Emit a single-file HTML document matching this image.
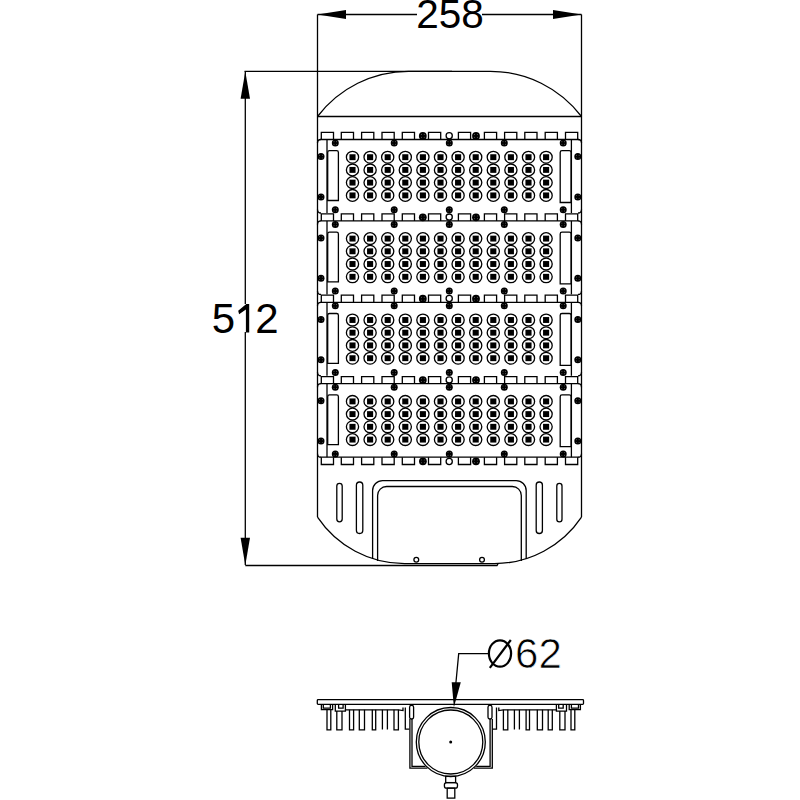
<!DOCTYPE html>
<html><head><meta charset="utf-8"><style>
html,body{margin:0;padding:0;background:#fff;width:800px;height:800px;overflow:hidden}
svg{display:block}
svg *{fill:none;stroke:#000;stroke-width:1.3}
svg .f{fill:#000;stroke:none}
svg .w{stroke:#fff;stroke-width:0.7}
svg .wd{fill:#999;stroke:none}
svg .sd{stroke:#777;stroke-width:0.6}
svg text{fill:#000;stroke:none;font-family:"Liberation Sans",sans-serif}
svg text.thin{stroke:#fff;stroke-width:0.7}
</style></head><body>
<svg width="800" height="800" viewBox="0 0 800 800">
<rect x="0" y="0" width="800" height="800" style="fill:#fff;stroke:none"/>
<line x1="317.5" y1="14.5" x2="417" y2="14.5"/>
<line x1="482" y1="14.5" x2="581.5" y2="14.5"/>
<polygon class="f" points="317.5,14.5 346,10.1 346,18.9"/>
<polygon class="f" points="581.5,14.5 553,10.1 553,18.9"/>
<line x1="317.5" y1="14.4" x2="317.5" y2="517.1"/>
<line x1="581.5" y1="14.4" x2="581.5" y2="517.1"/>
<line x1="244.5" y1="71.3" x2="452" y2="71.3"/>
<line x1="245.3" y1="71.5" x2="245.3" y2="304"/>
<line x1="245.3" y1="332" x2="245.3" y2="565"/>
<polygon class="f" points="245.3,71.5 240.6,98.8 250,98.8"/>
<polygon class="f" points="245.3,565.3 240.6,537.8 250,537.8"/>
<path d="M245.3,565.5 H497 L498,563.6"/>
<line x1="317.5" y1="116.5" x2="581.5" y2="116.5"/>
<path d="M317.5,116.5 A114.5,114.5 0 0 1 408.5,71.3 L490.3,71.3 A114.5,114.5 0 0 1 581.5,116.5"/>
<line x1="320.5" y1="139.50" x2="578.5" y2="139.50"/>
<path d="M321.30,139.50V132.40H333.50V139.50"/>
<path d="M341.30,139.50V132.40H353.50V139.50"/>
<path d="M361.60,139.50V132.40H373.80V139.50"/>
<path d="M382.00,139.50V132.40H394.20V139.50"/>
<path d="M402.30,139.50V132.40H414.50V139.50"/>
<path d="M428.50,139.50V132.40H440.70V139.50"/>
<path d="M458.40,139.50V132.40H470.60V139.50"/>
<path d="M484.40,139.50V132.40H496.60V139.50"/>
<path d="M504.60,139.50V132.40H516.80V139.50"/>
<path d="M524.80,139.50V132.40H537.00V139.50"/>
<path d="M545.20,139.50V132.40H557.40V139.50"/>
<path d="M565.50,139.50V132.40H577.70V139.50"/>
<circle class="f" cx="422.80" cy="135.90" r="3.9"/>
<circle class="wd" cx="421.40" cy="134.50" r="0.45"/>
<circle class="wd" cx="421.40" cy="137.30" r="0.45"/>
<circle class="wd" cx="424.20" cy="134.50" r="0.45"/>
<circle class="wd" cx="424.20" cy="137.30" r="0.45"/>
<circle class="f" cx="476.00" cy="135.90" r="3.9"/>
<circle class="wd" cx="474.60" cy="134.50" r="0.45"/>
<circle class="wd" cx="474.60" cy="137.30" r="0.45"/>
<circle class="wd" cx="477.40" cy="134.50" r="0.45"/>
<circle class="wd" cx="477.40" cy="137.30" r="0.45"/>
<circle cx="449.20" cy="135.70" r="3.1" stroke-width="1.3"/>
<path d="M317.5,143.00 Q317.5,139.50 321.0,139.50"/>
<path d="M581.5,143.00 Q581.5,139.50 578.0,139.50"/>
<path d="M317.5,209.50 Q317.5,213.00 321.0,213.00"/>
<path d="M581.5,209.50 Q581.5,213.00 578.0,213.00"/>
<line x1="327" y1="139.50" x2="327" y2="213.00"/>
<line x1="571.4" y1="139.50" x2="571.4" y2="213.00"/>
<path d="M327.7,200.50 V152.50 Q327.7,150.70 329.5,150.70 H336.6 Q338.4,150.70 338.4,152.50 V200.50 Z"/>
<path d="M560.2,202.50 V152.50 Q560.2,150.70 562,150.70 H569.3 Q571.1,150.70 571.1,152.50 V202.50 Z"/>
<circle class="f" cx="335.30" cy="143.00" r="3.5"/>
<circle class="wd" cx="334.00" cy="141.70" r="0.45"/>
<circle class="wd" cx="334.00" cy="144.30" r="0.45"/>
<circle class="wd" cx="336.60" cy="141.70" r="0.45"/>
<circle class="wd" cx="336.60" cy="144.30" r="0.45"/>
<circle class="f" cx="335.30" cy="209.70" r="3.5"/>
<circle class="wd" cx="334.00" cy="208.40" r="0.45"/>
<circle class="wd" cx="334.00" cy="211.00" r="0.45"/>
<circle class="wd" cx="336.60" cy="208.40" r="0.45"/>
<circle class="wd" cx="336.60" cy="211.00" r="0.45"/>
<circle class="f" cx="394.20" cy="143.00" r="3.5"/>
<circle class="wd" cx="392.90" cy="141.70" r="0.45"/>
<circle class="wd" cx="392.90" cy="144.30" r="0.45"/>
<circle class="wd" cx="395.50" cy="141.70" r="0.45"/>
<circle class="wd" cx="395.50" cy="144.30" r="0.45"/>
<circle class="f" cx="394.20" cy="209.70" r="3.5"/>
<circle class="wd" cx="392.90" cy="208.40" r="0.45"/>
<circle class="wd" cx="392.90" cy="211.00" r="0.45"/>
<circle class="wd" cx="395.50" cy="208.40" r="0.45"/>
<circle class="wd" cx="395.50" cy="211.00" r="0.45"/>
<circle class="f" cx="449.30" cy="143.00" r="3.5"/>
<circle class="wd" cx="448.00" cy="141.70" r="0.45"/>
<circle class="wd" cx="448.00" cy="144.30" r="0.45"/>
<circle class="wd" cx="450.60" cy="141.70" r="0.45"/>
<circle class="wd" cx="450.60" cy="144.30" r="0.45"/>
<circle class="f" cx="449.30" cy="209.70" r="3.5"/>
<circle class="wd" cx="448.00" cy="208.40" r="0.45"/>
<circle class="wd" cx="448.00" cy="211.00" r="0.45"/>
<circle class="wd" cx="450.60" cy="208.40" r="0.45"/>
<circle class="wd" cx="450.60" cy="211.00" r="0.45"/>
<circle class="f" cx="504.30" cy="143.00" r="3.5"/>
<circle class="wd" cx="503.00" cy="141.70" r="0.45"/>
<circle class="wd" cx="503.00" cy="144.30" r="0.45"/>
<circle class="wd" cx="505.60" cy="141.70" r="0.45"/>
<circle class="wd" cx="505.60" cy="144.30" r="0.45"/>
<circle class="f" cx="504.30" cy="209.70" r="3.5"/>
<circle class="wd" cx="503.00" cy="208.40" r="0.45"/>
<circle class="wd" cx="503.00" cy="211.00" r="0.45"/>
<circle class="wd" cx="505.60" cy="208.40" r="0.45"/>
<circle class="wd" cx="505.60" cy="211.00" r="0.45"/>
<circle class="f" cx="563.20" cy="143.00" r="3.5"/>
<circle class="wd" cx="561.90" cy="141.70" r="0.45"/>
<circle class="wd" cx="561.90" cy="144.30" r="0.45"/>
<circle class="wd" cx="564.50" cy="141.70" r="0.45"/>
<circle class="wd" cx="564.50" cy="144.30" r="0.45"/>
<circle class="f" cx="563.20" cy="209.70" r="3.5"/>
<circle class="wd" cx="561.90" cy="208.40" r="0.45"/>
<circle class="wd" cx="561.90" cy="211.00" r="0.45"/>
<circle class="wd" cx="564.50" cy="208.40" r="0.45"/>
<circle class="wd" cx="564.50" cy="211.00" r="0.45"/>
<circle class="f" cx="321.00" cy="156.60" r="3.5"/>
<circle class="wd" cx="319.70" cy="155.30" r="0.45"/>
<circle class="wd" cx="319.70" cy="157.90" r="0.45"/>
<circle class="wd" cx="322.30" cy="155.30" r="0.45"/>
<circle class="wd" cx="322.30" cy="157.90" r="0.45"/>
<circle class="f" cx="577.80" cy="156.60" r="3.5"/>
<circle class="wd" cx="576.50" cy="155.30" r="0.45"/>
<circle class="wd" cx="576.50" cy="157.90" r="0.45"/>
<circle class="wd" cx="579.10" cy="155.30" r="0.45"/>
<circle class="wd" cx="579.10" cy="157.90" r="0.45"/>
<circle class="f" cx="321.00" cy="196.90" r="3.5"/>
<circle class="wd" cx="319.70" cy="195.60" r="0.45"/>
<circle class="wd" cx="319.70" cy="198.20" r="0.45"/>
<circle class="wd" cx="322.30" cy="195.60" r="0.45"/>
<circle class="wd" cx="322.30" cy="198.20" r="0.45"/>
<circle class="f" cx="577.80" cy="196.90" r="3.5"/>
<circle class="wd" cx="576.50" cy="195.60" r="0.45"/>
<circle class="wd" cx="576.50" cy="198.20" r="0.45"/>
<circle class="wd" cx="579.10" cy="195.60" r="0.45"/>
<circle class="wd" cx="579.10" cy="198.20" r="0.45"/>
<ellipse cx="352.50" cy="157.20" rx="6.1" ry="5.9"/>
<rect class="f" x="349.45" y="154.25" width="6.1" height="5.9"/>
<ellipse cx="370.10" cy="157.20" rx="6.1" ry="5.9"/>
<rect class="f" x="367.05" y="154.25" width="6.1" height="5.9"/>
<ellipse cx="387.70" cy="157.20" rx="6.1" ry="5.9"/>
<rect class="f" x="384.65" y="154.25" width="6.1" height="5.9"/>
<ellipse cx="405.30" cy="157.20" rx="6.1" ry="5.9"/>
<rect class="f" x="402.25" y="154.25" width="6.1" height="5.9"/>
<ellipse cx="422.90" cy="157.20" rx="6.1" ry="5.9"/>
<rect class="f" x="419.85" y="154.25" width="6.1" height="5.9"/>
<ellipse cx="440.50" cy="157.20" rx="6.1" ry="5.9"/>
<rect class="f" x="437.45" y="154.25" width="6.1" height="5.9"/>
<ellipse cx="458.10" cy="157.20" rx="6.1" ry="5.9"/>
<rect class="f" x="455.05" y="154.25" width="6.1" height="5.9"/>
<ellipse cx="475.70" cy="157.20" rx="6.1" ry="5.9"/>
<rect class="f" x="472.65" y="154.25" width="6.1" height="5.9"/>
<ellipse cx="493.30" cy="157.20" rx="6.1" ry="5.9"/>
<rect class="f" x="490.25" y="154.25" width="6.1" height="5.9"/>
<ellipse cx="510.90" cy="157.20" rx="6.1" ry="5.9"/>
<rect class="f" x="507.85" y="154.25" width="6.1" height="5.9"/>
<ellipse cx="528.50" cy="157.20" rx="6.1" ry="5.9"/>
<rect class="f" x="525.45" y="154.25" width="6.1" height="5.9"/>
<ellipse cx="546.10" cy="157.20" rx="6.1" ry="5.9"/>
<rect class="f" x="543.05" y="154.25" width="6.1" height="5.9"/>
<ellipse cx="352.50" cy="169.90" rx="6.1" ry="5.9"/>
<rect class="f" x="349.45" y="166.95" width="6.1" height="5.9"/>
<ellipse cx="370.10" cy="169.90" rx="6.1" ry="5.9"/>
<rect class="f" x="367.05" y="166.95" width="6.1" height="5.9"/>
<ellipse cx="387.70" cy="169.90" rx="6.1" ry="5.9"/>
<rect class="f" x="384.65" y="166.95" width="6.1" height="5.9"/>
<ellipse cx="405.30" cy="169.90" rx="6.1" ry="5.9"/>
<rect class="f" x="402.25" y="166.95" width="6.1" height="5.9"/>
<ellipse cx="422.90" cy="169.90" rx="6.1" ry="5.9"/>
<rect class="f" x="419.85" y="166.95" width="6.1" height="5.9"/>
<ellipse cx="440.50" cy="169.90" rx="6.1" ry="5.9"/>
<rect class="f" x="437.45" y="166.95" width="6.1" height="5.9"/>
<ellipse cx="458.10" cy="169.90" rx="6.1" ry="5.9"/>
<rect class="f" x="455.05" y="166.95" width="6.1" height="5.9"/>
<ellipse cx="475.70" cy="169.90" rx="6.1" ry="5.9"/>
<rect class="f" x="472.65" y="166.95" width="6.1" height="5.9"/>
<ellipse cx="493.30" cy="169.90" rx="6.1" ry="5.9"/>
<rect class="f" x="490.25" y="166.95" width="6.1" height="5.9"/>
<ellipse cx="510.90" cy="169.90" rx="6.1" ry="5.9"/>
<rect class="f" x="507.85" y="166.95" width="6.1" height="5.9"/>
<ellipse cx="528.50" cy="169.90" rx="6.1" ry="5.9"/>
<rect class="f" x="525.45" y="166.95" width="6.1" height="5.9"/>
<ellipse cx="546.10" cy="169.90" rx="6.1" ry="5.9"/>
<rect class="f" x="543.05" y="166.95" width="6.1" height="5.9"/>
<ellipse cx="352.50" cy="182.60" rx="6.1" ry="5.9"/>
<rect class="f" x="349.45" y="179.65" width="6.1" height="5.9"/>
<ellipse cx="370.10" cy="182.60" rx="6.1" ry="5.9"/>
<rect class="f" x="367.05" y="179.65" width="6.1" height="5.9"/>
<ellipse cx="387.70" cy="182.60" rx="6.1" ry="5.9"/>
<rect class="f" x="384.65" y="179.65" width="6.1" height="5.9"/>
<ellipse cx="405.30" cy="182.60" rx="6.1" ry="5.9"/>
<rect class="f" x="402.25" y="179.65" width="6.1" height="5.9"/>
<ellipse cx="422.90" cy="182.60" rx="6.1" ry="5.9"/>
<rect class="f" x="419.85" y="179.65" width="6.1" height="5.9"/>
<ellipse cx="440.50" cy="182.60" rx="6.1" ry="5.9"/>
<rect class="f" x="437.45" y="179.65" width="6.1" height="5.9"/>
<ellipse cx="458.10" cy="182.60" rx="6.1" ry="5.9"/>
<rect class="f" x="455.05" y="179.65" width="6.1" height="5.9"/>
<ellipse cx="475.70" cy="182.60" rx="6.1" ry="5.9"/>
<rect class="f" x="472.65" y="179.65" width="6.1" height="5.9"/>
<ellipse cx="493.30" cy="182.60" rx="6.1" ry="5.9"/>
<rect class="f" x="490.25" y="179.65" width="6.1" height="5.9"/>
<ellipse cx="510.90" cy="182.60" rx="6.1" ry="5.9"/>
<rect class="f" x="507.85" y="179.65" width="6.1" height="5.9"/>
<ellipse cx="528.50" cy="182.60" rx="6.1" ry="5.9"/>
<rect class="f" x="525.45" y="179.65" width="6.1" height="5.9"/>
<ellipse cx="546.10" cy="182.60" rx="6.1" ry="5.9"/>
<rect class="f" x="543.05" y="179.65" width="6.1" height="5.9"/>
<ellipse cx="352.50" cy="195.40" rx="6.1" ry="5.9"/>
<rect class="f" x="349.45" y="192.45" width="6.1" height="5.9"/>
<ellipse cx="370.10" cy="195.40" rx="6.1" ry="5.9"/>
<rect class="f" x="367.05" y="192.45" width="6.1" height="5.9"/>
<ellipse cx="387.70" cy="195.40" rx="6.1" ry="5.9"/>
<rect class="f" x="384.65" y="192.45" width="6.1" height="5.9"/>
<ellipse cx="405.30" cy="195.40" rx="6.1" ry="5.9"/>
<rect class="f" x="402.25" y="192.45" width="6.1" height="5.9"/>
<ellipse cx="422.90" cy="195.40" rx="6.1" ry="5.9"/>
<rect class="f" x="419.85" y="192.45" width="6.1" height="5.9"/>
<ellipse cx="440.50" cy="195.40" rx="6.1" ry="5.9"/>
<rect class="f" x="437.45" y="192.45" width="6.1" height="5.9"/>
<ellipse cx="458.10" cy="195.40" rx="6.1" ry="5.9"/>
<rect class="f" x="455.05" y="192.45" width="6.1" height="5.9"/>
<ellipse cx="475.70" cy="195.40" rx="6.1" ry="5.9"/>
<rect class="f" x="472.65" y="192.45" width="6.1" height="5.9"/>
<ellipse cx="493.30" cy="195.40" rx="6.1" ry="5.9"/>
<rect class="f" x="490.25" y="192.45" width="6.1" height="5.9"/>
<ellipse cx="510.90" cy="195.40" rx="6.1" ry="5.9"/>
<rect class="f" x="507.85" y="192.45" width="6.1" height="5.9"/>
<ellipse cx="528.50" cy="195.40" rx="6.1" ry="5.9"/>
<rect class="f" x="525.45" y="192.45" width="6.1" height="5.9"/>
<ellipse cx="546.10" cy="195.40" rx="6.1" ry="5.9"/>
<rect class="f" x="543.05" y="192.45" width="6.1" height="5.9"/>
<line x1="320.5" y1="220.90" x2="578.5" y2="220.90"/>
<path d="M321.30,220.90V213.80H333.50V220.90"/>
<path d="M341.30,220.90V213.80H353.50V220.90"/>
<path d="M361.60,220.90V213.80H373.80V220.90"/>
<path d="M382.00,220.90V213.80H394.20V220.90"/>
<path d="M402.30,220.90V213.80H414.50V220.90"/>
<path d="M428.50,220.90V213.80H440.70V220.90"/>
<path d="M458.40,220.90V213.80H470.60V220.90"/>
<path d="M484.40,220.90V213.80H496.60V220.90"/>
<path d="M504.60,220.90V213.80H516.80V220.90"/>
<path d="M524.80,220.90V213.80H537.00V220.90"/>
<path d="M545.20,220.90V213.80H557.40V220.90"/>
<path d="M565.50,220.90V213.80H577.70V220.90"/>
<circle class="f" cx="422.80" cy="217.30" r="3.9"/>
<circle class="wd" cx="421.40" cy="215.90" r="0.45"/>
<circle class="wd" cx="421.40" cy="218.70" r="0.45"/>
<circle class="wd" cx="424.20" cy="215.90" r="0.45"/>
<circle class="wd" cx="424.20" cy="218.70" r="0.45"/>
<circle class="f" cx="476.00" cy="217.30" r="3.9"/>
<circle class="wd" cx="474.60" cy="215.90" r="0.45"/>
<circle class="wd" cx="474.60" cy="218.70" r="0.45"/>
<circle class="wd" cx="477.40" cy="215.90" r="0.45"/>
<circle class="wd" cx="477.40" cy="218.70" r="0.45"/>
<circle cx="449.20" cy="217.10" r="3.1" stroke-width="1.3"/>
<path d="M317.5,224.40 Q317.5,220.90 321.0,220.90"/>
<path d="M581.5,224.40 Q581.5,220.90 578.0,220.90"/>
<path d="M317.5,290.90 Q317.5,294.40 321.0,294.40"/>
<path d="M581.5,290.90 Q581.5,294.40 578.0,294.40"/>
<line x1="327" y1="220.90" x2="327" y2="294.40"/>
<line x1="571.4" y1="220.90" x2="571.4" y2="294.40"/>
<path d="M327.7,281.90 V233.90 Q327.7,232.10 329.5,232.10 H336.6 Q338.4,232.10 338.4,233.90 V281.90 Z"/>
<path d="M560.2,283.90 V233.90 Q560.2,232.10 562,232.10 H569.3 Q571.1,232.10 571.1,233.90 V283.90 Z"/>
<circle class="f" cx="335.30" cy="224.40" r="3.5"/>
<circle class="wd" cx="334.00" cy="223.10" r="0.45"/>
<circle class="wd" cx="334.00" cy="225.70" r="0.45"/>
<circle class="wd" cx="336.60" cy="223.10" r="0.45"/>
<circle class="wd" cx="336.60" cy="225.70" r="0.45"/>
<circle class="f" cx="335.30" cy="291.10" r="3.5"/>
<circle class="wd" cx="334.00" cy="289.80" r="0.45"/>
<circle class="wd" cx="334.00" cy="292.40" r="0.45"/>
<circle class="wd" cx="336.60" cy="289.80" r="0.45"/>
<circle class="wd" cx="336.60" cy="292.40" r="0.45"/>
<circle class="f" cx="394.20" cy="224.40" r="3.5"/>
<circle class="wd" cx="392.90" cy="223.10" r="0.45"/>
<circle class="wd" cx="392.90" cy="225.70" r="0.45"/>
<circle class="wd" cx="395.50" cy="223.10" r="0.45"/>
<circle class="wd" cx="395.50" cy="225.70" r="0.45"/>
<circle class="f" cx="394.20" cy="291.10" r="3.5"/>
<circle class="wd" cx="392.90" cy="289.80" r="0.45"/>
<circle class="wd" cx="392.90" cy="292.40" r="0.45"/>
<circle class="wd" cx="395.50" cy="289.80" r="0.45"/>
<circle class="wd" cx="395.50" cy="292.40" r="0.45"/>
<circle class="f" cx="449.30" cy="224.40" r="3.5"/>
<circle class="wd" cx="448.00" cy="223.10" r="0.45"/>
<circle class="wd" cx="448.00" cy="225.70" r="0.45"/>
<circle class="wd" cx="450.60" cy="223.10" r="0.45"/>
<circle class="wd" cx="450.60" cy="225.70" r="0.45"/>
<circle class="f" cx="449.30" cy="291.10" r="3.5"/>
<circle class="wd" cx="448.00" cy="289.80" r="0.45"/>
<circle class="wd" cx="448.00" cy="292.40" r="0.45"/>
<circle class="wd" cx="450.60" cy="289.80" r="0.45"/>
<circle class="wd" cx="450.60" cy="292.40" r="0.45"/>
<circle class="f" cx="504.30" cy="224.40" r="3.5"/>
<circle class="wd" cx="503.00" cy="223.10" r="0.45"/>
<circle class="wd" cx="503.00" cy="225.70" r="0.45"/>
<circle class="wd" cx="505.60" cy="223.10" r="0.45"/>
<circle class="wd" cx="505.60" cy="225.70" r="0.45"/>
<circle class="f" cx="504.30" cy="291.10" r="3.5"/>
<circle class="wd" cx="503.00" cy="289.80" r="0.45"/>
<circle class="wd" cx="503.00" cy="292.40" r="0.45"/>
<circle class="wd" cx="505.60" cy="289.80" r="0.45"/>
<circle class="wd" cx="505.60" cy="292.40" r="0.45"/>
<circle class="f" cx="563.20" cy="224.40" r="3.5"/>
<circle class="wd" cx="561.90" cy="223.10" r="0.45"/>
<circle class="wd" cx="561.90" cy="225.70" r="0.45"/>
<circle class="wd" cx="564.50" cy="223.10" r="0.45"/>
<circle class="wd" cx="564.50" cy="225.70" r="0.45"/>
<circle class="f" cx="563.20" cy="291.10" r="3.5"/>
<circle class="wd" cx="561.90" cy="289.80" r="0.45"/>
<circle class="wd" cx="561.90" cy="292.40" r="0.45"/>
<circle class="wd" cx="564.50" cy="289.80" r="0.45"/>
<circle class="wd" cx="564.50" cy="292.40" r="0.45"/>
<circle class="f" cx="321.00" cy="238.00" r="3.5"/>
<circle class="wd" cx="319.70" cy="236.70" r="0.45"/>
<circle class="wd" cx="319.70" cy="239.30" r="0.45"/>
<circle class="wd" cx="322.30" cy="236.70" r="0.45"/>
<circle class="wd" cx="322.30" cy="239.30" r="0.45"/>
<circle class="f" cx="577.80" cy="238.00" r="3.5"/>
<circle class="wd" cx="576.50" cy="236.70" r="0.45"/>
<circle class="wd" cx="576.50" cy="239.30" r="0.45"/>
<circle class="wd" cx="579.10" cy="236.70" r="0.45"/>
<circle class="wd" cx="579.10" cy="239.30" r="0.45"/>
<circle class="f" cx="321.00" cy="278.30" r="3.5"/>
<circle class="wd" cx="319.70" cy="277.00" r="0.45"/>
<circle class="wd" cx="319.70" cy="279.60" r="0.45"/>
<circle class="wd" cx="322.30" cy="277.00" r="0.45"/>
<circle class="wd" cx="322.30" cy="279.60" r="0.45"/>
<circle class="f" cx="577.80" cy="278.30" r="3.5"/>
<circle class="wd" cx="576.50" cy="277.00" r="0.45"/>
<circle class="wd" cx="576.50" cy="279.60" r="0.45"/>
<circle class="wd" cx="579.10" cy="277.00" r="0.45"/>
<circle class="wd" cx="579.10" cy="279.60" r="0.45"/>
<ellipse cx="352.50" cy="238.60" rx="6.1" ry="5.9"/>
<rect class="f" x="349.45" y="235.65" width="6.1" height="5.9"/>
<ellipse cx="370.10" cy="238.60" rx="6.1" ry="5.9"/>
<rect class="f" x="367.05" y="235.65" width="6.1" height="5.9"/>
<ellipse cx="387.70" cy="238.60" rx="6.1" ry="5.9"/>
<rect class="f" x="384.65" y="235.65" width="6.1" height="5.9"/>
<ellipse cx="405.30" cy="238.60" rx="6.1" ry="5.9"/>
<rect class="f" x="402.25" y="235.65" width="6.1" height="5.9"/>
<ellipse cx="422.90" cy="238.60" rx="6.1" ry="5.9"/>
<rect class="f" x="419.85" y="235.65" width="6.1" height="5.9"/>
<ellipse cx="440.50" cy="238.60" rx="6.1" ry="5.9"/>
<rect class="f" x="437.45" y="235.65" width="6.1" height="5.9"/>
<ellipse cx="458.10" cy="238.60" rx="6.1" ry="5.9"/>
<rect class="f" x="455.05" y="235.65" width="6.1" height="5.9"/>
<ellipse cx="475.70" cy="238.60" rx="6.1" ry="5.9"/>
<rect class="f" x="472.65" y="235.65" width="6.1" height="5.9"/>
<ellipse cx="493.30" cy="238.60" rx="6.1" ry="5.9"/>
<rect class="f" x="490.25" y="235.65" width="6.1" height="5.9"/>
<ellipse cx="510.90" cy="238.60" rx="6.1" ry="5.9"/>
<rect class="f" x="507.85" y="235.65" width="6.1" height="5.9"/>
<ellipse cx="528.50" cy="238.60" rx="6.1" ry="5.9"/>
<rect class="f" x="525.45" y="235.65" width="6.1" height="5.9"/>
<ellipse cx="546.10" cy="238.60" rx="6.1" ry="5.9"/>
<rect class="f" x="543.05" y="235.65" width="6.1" height="5.9"/>
<ellipse cx="352.50" cy="251.30" rx="6.1" ry="5.9"/>
<rect class="f" x="349.45" y="248.35" width="6.1" height="5.9"/>
<ellipse cx="370.10" cy="251.30" rx="6.1" ry="5.9"/>
<rect class="f" x="367.05" y="248.35" width="6.1" height="5.9"/>
<ellipse cx="387.70" cy="251.30" rx="6.1" ry="5.9"/>
<rect class="f" x="384.65" y="248.35" width="6.1" height="5.9"/>
<ellipse cx="405.30" cy="251.30" rx="6.1" ry="5.9"/>
<rect class="f" x="402.25" y="248.35" width="6.1" height="5.9"/>
<ellipse cx="422.90" cy="251.30" rx="6.1" ry="5.9"/>
<rect class="f" x="419.85" y="248.35" width="6.1" height="5.9"/>
<ellipse cx="440.50" cy="251.30" rx="6.1" ry="5.9"/>
<rect class="f" x="437.45" y="248.35" width="6.1" height="5.9"/>
<ellipse cx="458.10" cy="251.30" rx="6.1" ry="5.9"/>
<rect class="f" x="455.05" y="248.35" width="6.1" height="5.9"/>
<ellipse cx="475.70" cy="251.30" rx="6.1" ry="5.9"/>
<rect class="f" x="472.65" y="248.35" width="6.1" height="5.9"/>
<ellipse cx="493.30" cy="251.30" rx="6.1" ry="5.9"/>
<rect class="f" x="490.25" y="248.35" width="6.1" height="5.9"/>
<ellipse cx="510.90" cy="251.30" rx="6.1" ry="5.9"/>
<rect class="f" x="507.85" y="248.35" width="6.1" height="5.9"/>
<ellipse cx="528.50" cy="251.30" rx="6.1" ry="5.9"/>
<rect class="f" x="525.45" y="248.35" width="6.1" height="5.9"/>
<ellipse cx="546.10" cy="251.30" rx="6.1" ry="5.9"/>
<rect class="f" x="543.05" y="248.35" width="6.1" height="5.9"/>
<ellipse cx="352.50" cy="264.00" rx="6.1" ry="5.9"/>
<rect class="f" x="349.45" y="261.05" width="6.1" height="5.9"/>
<ellipse cx="370.10" cy="264.00" rx="6.1" ry="5.9"/>
<rect class="f" x="367.05" y="261.05" width="6.1" height="5.9"/>
<ellipse cx="387.70" cy="264.00" rx="6.1" ry="5.9"/>
<rect class="f" x="384.65" y="261.05" width="6.1" height="5.9"/>
<ellipse cx="405.30" cy="264.00" rx="6.1" ry="5.9"/>
<rect class="f" x="402.25" y="261.05" width="6.1" height="5.9"/>
<ellipse cx="422.90" cy="264.00" rx="6.1" ry="5.9"/>
<rect class="f" x="419.85" y="261.05" width="6.1" height="5.9"/>
<ellipse cx="440.50" cy="264.00" rx="6.1" ry="5.9"/>
<rect class="f" x="437.45" y="261.05" width="6.1" height="5.9"/>
<ellipse cx="458.10" cy="264.00" rx="6.1" ry="5.9"/>
<rect class="f" x="455.05" y="261.05" width="6.1" height="5.9"/>
<ellipse cx="475.70" cy="264.00" rx="6.1" ry="5.9"/>
<rect class="f" x="472.65" y="261.05" width="6.1" height="5.9"/>
<ellipse cx="493.30" cy="264.00" rx="6.1" ry="5.9"/>
<rect class="f" x="490.25" y="261.05" width="6.1" height="5.9"/>
<ellipse cx="510.90" cy="264.00" rx="6.1" ry="5.9"/>
<rect class="f" x="507.85" y="261.05" width="6.1" height="5.9"/>
<ellipse cx="528.50" cy="264.00" rx="6.1" ry="5.9"/>
<rect class="f" x="525.45" y="261.05" width="6.1" height="5.9"/>
<ellipse cx="546.10" cy="264.00" rx="6.1" ry="5.9"/>
<rect class="f" x="543.05" y="261.05" width="6.1" height="5.9"/>
<ellipse cx="352.50" cy="276.80" rx="6.1" ry="5.9"/>
<rect class="f" x="349.45" y="273.85" width="6.1" height="5.9"/>
<ellipse cx="370.10" cy="276.80" rx="6.1" ry="5.9"/>
<rect class="f" x="367.05" y="273.85" width="6.1" height="5.9"/>
<ellipse cx="387.70" cy="276.80" rx="6.1" ry="5.9"/>
<rect class="f" x="384.65" y="273.85" width="6.1" height="5.9"/>
<ellipse cx="405.30" cy="276.80" rx="6.1" ry="5.9"/>
<rect class="f" x="402.25" y="273.85" width="6.1" height="5.9"/>
<ellipse cx="422.90" cy="276.80" rx="6.1" ry="5.9"/>
<rect class="f" x="419.85" y="273.85" width="6.1" height="5.9"/>
<ellipse cx="440.50" cy="276.80" rx="6.1" ry="5.9"/>
<rect class="f" x="437.45" y="273.85" width="6.1" height="5.9"/>
<ellipse cx="458.10" cy="276.80" rx="6.1" ry="5.9"/>
<rect class="f" x="455.05" y="273.85" width="6.1" height="5.9"/>
<ellipse cx="475.70" cy="276.80" rx="6.1" ry="5.9"/>
<rect class="f" x="472.65" y="273.85" width="6.1" height="5.9"/>
<ellipse cx="493.30" cy="276.80" rx="6.1" ry="5.9"/>
<rect class="f" x="490.25" y="273.85" width="6.1" height="5.9"/>
<ellipse cx="510.90" cy="276.80" rx="6.1" ry="5.9"/>
<rect class="f" x="507.85" y="273.85" width="6.1" height="5.9"/>
<ellipse cx="528.50" cy="276.80" rx="6.1" ry="5.9"/>
<rect class="f" x="525.45" y="273.85" width="6.1" height="5.9"/>
<ellipse cx="546.10" cy="276.80" rx="6.1" ry="5.9"/>
<rect class="f" x="543.05" y="273.85" width="6.1" height="5.9"/>
<line x1="320.5" y1="302.30" x2="578.5" y2="302.30"/>
<path d="M321.30,302.30V295.20H333.50V302.30"/>
<path d="M341.30,302.30V295.20H353.50V302.30"/>
<path d="M361.60,302.30V295.20H373.80V302.30"/>
<path d="M382.00,302.30V295.20H394.20V302.30"/>
<path d="M402.30,302.30V295.20H414.50V302.30"/>
<path d="M428.50,302.30V295.20H440.70V302.30"/>
<path d="M458.40,302.30V295.20H470.60V302.30"/>
<path d="M484.40,302.30V295.20H496.60V302.30"/>
<path d="M504.60,302.30V295.20H516.80V302.30"/>
<path d="M524.80,302.30V295.20H537.00V302.30"/>
<path d="M545.20,302.30V295.20H557.40V302.30"/>
<path d="M565.50,302.30V295.20H577.70V302.30"/>
<circle class="f" cx="422.80" cy="298.70" r="3.9"/>
<circle class="wd" cx="421.40" cy="297.30" r="0.45"/>
<circle class="wd" cx="421.40" cy="300.10" r="0.45"/>
<circle class="wd" cx="424.20" cy="297.30" r="0.45"/>
<circle class="wd" cx="424.20" cy="300.10" r="0.45"/>
<circle class="f" cx="476.00" cy="298.70" r="3.9"/>
<circle class="wd" cx="474.60" cy="297.30" r="0.45"/>
<circle class="wd" cx="474.60" cy="300.10" r="0.45"/>
<circle class="wd" cx="477.40" cy="297.30" r="0.45"/>
<circle class="wd" cx="477.40" cy="300.10" r="0.45"/>
<circle cx="449.20" cy="298.50" r="3.1" stroke-width="1.3"/>
<path d="M317.5,305.80 Q317.5,302.30 321.0,302.30"/>
<path d="M581.5,305.80 Q581.5,302.30 578.0,302.30"/>
<path d="M317.5,372.30 Q317.5,375.80 321.0,375.80"/>
<path d="M581.5,372.30 Q581.5,375.80 578.0,375.80"/>
<line x1="327" y1="302.30" x2="327" y2="375.80"/>
<line x1="571.4" y1="302.30" x2="571.4" y2="375.80"/>
<path d="M327.7,363.30 V315.30 Q327.7,313.50 329.5,313.50 H336.6 Q338.4,313.50 338.4,315.30 V363.30 Z"/>
<path d="M560.2,365.30 V315.30 Q560.2,313.50 562,313.50 H569.3 Q571.1,313.50 571.1,315.30 V365.30 Z"/>
<circle class="f" cx="335.30" cy="305.80" r="3.5"/>
<circle class="wd" cx="334.00" cy="304.50" r="0.45"/>
<circle class="wd" cx="334.00" cy="307.10" r="0.45"/>
<circle class="wd" cx="336.60" cy="304.50" r="0.45"/>
<circle class="wd" cx="336.60" cy="307.10" r="0.45"/>
<circle class="f" cx="335.30" cy="372.50" r="3.5"/>
<circle class="wd" cx="334.00" cy="371.20" r="0.45"/>
<circle class="wd" cx="334.00" cy="373.80" r="0.45"/>
<circle class="wd" cx="336.60" cy="371.20" r="0.45"/>
<circle class="wd" cx="336.60" cy="373.80" r="0.45"/>
<circle class="f" cx="394.20" cy="305.80" r="3.5"/>
<circle class="wd" cx="392.90" cy="304.50" r="0.45"/>
<circle class="wd" cx="392.90" cy="307.10" r="0.45"/>
<circle class="wd" cx="395.50" cy="304.50" r="0.45"/>
<circle class="wd" cx="395.50" cy="307.10" r="0.45"/>
<circle class="f" cx="394.20" cy="372.50" r="3.5"/>
<circle class="wd" cx="392.90" cy="371.20" r="0.45"/>
<circle class="wd" cx="392.90" cy="373.80" r="0.45"/>
<circle class="wd" cx="395.50" cy="371.20" r="0.45"/>
<circle class="wd" cx="395.50" cy="373.80" r="0.45"/>
<circle class="f" cx="449.30" cy="305.80" r="3.5"/>
<circle class="wd" cx="448.00" cy="304.50" r="0.45"/>
<circle class="wd" cx="448.00" cy="307.10" r="0.45"/>
<circle class="wd" cx="450.60" cy="304.50" r="0.45"/>
<circle class="wd" cx="450.60" cy="307.10" r="0.45"/>
<circle class="f" cx="449.30" cy="372.50" r="3.5"/>
<circle class="wd" cx="448.00" cy="371.20" r="0.45"/>
<circle class="wd" cx="448.00" cy="373.80" r="0.45"/>
<circle class="wd" cx="450.60" cy="371.20" r="0.45"/>
<circle class="wd" cx="450.60" cy="373.80" r="0.45"/>
<circle class="f" cx="504.30" cy="305.80" r="3.5"/>
<circle class="wd" cx="503.00" cy="304.50" r="0.45"/>
<circle class="wd" cx="503.00" cy="307.10" r="0.45"/>
<circle class="wd" cx="505.60" cy="304.50" r="0.45"/>
<circle class="wd" cx="505.60" cy="307.10" r="0.45"/>
<circle class="f" cx="504.30" cy="372.50" r="3.5"/>
<circle class="wd" cx="503.00" cy="371.20" r="0.45"/>
<circle class="wd" cx="503.00" cy="373.80" r="0.45"/>
<circle class="wd" cx="505.60" cy="371.20" r="0.45"/>
<circle class="wd" cx="505.60" cy="373.80" r="0.45"/>
<circle class="f" cx="563.20" cy="305.80" r="3.5"/>
<circle class="wd" cx="561.90" cy="304.50" r="0.45"/>
<circle class="wd" cx="561.90" cy="307.10" r="0.45"/>
<circle class="wd" cx="564.50" cy="304.50" r="0.45"/>
<circle class="wd" cx="564.50" cy="307.10" r="0.45"/>
<circle class="f" cx="563.20" cy="372.50" r="3.5"/>
<circle class="wd" cx="561.90" cy="371.20" r="0.45"/>
<circle class="wd" cx="561.90" cy="373.80" r="0.45"/>
<circle class="wd" cx="564.50" cy="371.20" r="0.45"/>
<circle class="wd" cx="564.50" cy="373.80" r="0.45"/>
<circle class="f" cx="321.00" cy="319.40" r="3.5"/>
<circle class="wd" cx="319.70" cy="318.10" r="0.45"/>
<circle class="wd" cx="319.70" cy="320.70" r="0.45"/>
<circle class="wd" cx="322.30" cy="318.10" r="0.45"/>
<circle class="wd" cx="322.30" cy="320.70" r="0.45"/>
<circle class="f" cx="577.80" cy="319.40" r="3.5"/>
<circle class="wd" cx="576.50" cy="318.10" r="0.45"/>
<circle class="wd" cx="576.50" cy="320.70" r="0.45"/>
<circle class="wd" cx="579.10" cy="318.10" r="0.45"/>
<circle class="wd" cx="579.10" cy="320.70" r="0.45"/>
<circle class="f" cx="321.00" cy="359.70" r="3.5"/>
<circle class="wd" cx="319.70" cy="358.40" r="0.45"/>
<circle class="wd" cx="319.70" cy="361.00" r="0.45"/>
<circle class="wd" cx="322.30" cy="358.40" r="0.45"/>
<circle class="wd" cx="322.30" cy="361.00" r="0.45"/>
<circle class="f" cx="577.80" cy="359.70" r="3.5"/>
<circle class="wd" cx="576.50" cy="358.40" r="0.45"/>
<circle class="wd" cx="576.50" cy="361.00" r="0.45"/>
<circle class="wd" cx="579.10" cy="358.40" r="0.45"/>
<circle class="wd" cx="579.10" cy="361.00" r="0.45"/>
<ellipse cx="352.50" cy="320.00" rx="6.1" ry="5.9"/>
<rect class="f" x="349.45" y="317.05" width="6.1" height="5.9"/>
<ellipse cx="370.10" cy="320.00" rx="6.1" ry="5.9"/>
<rect class="f" x="367.05" y="317.05" width="6.1" height="5.9"/>
<ellipse cx="387.70" cy="320.00" rx="6.1" ry="5.9"/>
<rect class="f" x="384.65" y="317.05" width="6.1" height="5.9"/>
<ellipse cx="405.30" cy="320.00" rx="6.1" ry="5.9"/>
<rect class="f" x="402.25" y="317.05" width="6.1" height="5.9"/>
<ellipse cx="422.90" cy="320.00" rx="6.1" ry="5.9"/>
<rect class="f" x="419.85" y="317.05" width="6.1" height="5.9"/>
<ellipse cx="440.50" cy="320.00" rx="6.1" ry="5.9"/>
<rect class="f" x="437.45" y="317.05" width="6.1" height="5.9"/>
<ellipse cx="458.10" cy="320.00" rx="6.1" ry="5.9"/>
<rect class="f" x="455.05" y="317.05" width="6.1" height="5.9"/>
<ellipse cx="475.70" cy="320.00" rx="6.1" ry="5.9"/>
<rect class="f" x="472.65" y="317.05" width="6.1" height="5.9"/>
<ellipse cx="493.30" cy="320.00" rx="6.1" ry="5.9"/>
<rect class="f" x="490.25" y="317.05" width="6.1" height="5.9"/>
<ellipse cx="510.90" cy="320.00" rx="6.1" ry="5.9"/>
<rect class="f" x="507.85" y="317.05" width="6.1" height="5.9"/>
<ellipse cx="528.50" cy="320.00" rx="6.1" ry="5.9"/>
<rect class="f" x="525.45" y="317.05" width="6.1" height="5.9"/>
<ellipse cx="546.10" cy="320.00" rx="6.1" ry="5.9"/>
<rect class="f" x="543.05" y="317.05" width="6.1" height="5.9"/>
<ellipse cx="352.50" cy="332.70" rx="6.1" ry="5.9"/>
<rect class="f" x="349.45" y="329.75" width="6.1" height="5.9"/>
<ellipse cx="370.10" cy="332.70" rx="6.1" ry="5.9"/>
<rect class="f" x="367.05" y="329.75" width="6.1" height="5.9"/>
<ellipse cx="387.70" cy="332.70" rx="6.1" ry="5.9"/>
<rect class="f" x="384.65" y="329.75" width="6.1" height="5.9"/>
<ellipse cx="405.30" cy="332.70" rx="6.1" ry="5.9"/>
<rect class="f" x="402.25" y="329.75" width="6.1" height="5.9"/>
<ellipse cx="422.90" cy="332.70" rx="6.1" ry="5.9"/>
<rect class="f" x="419.85" y="329.75" width="6.1" height="5.9"/>
<ellipse cx="440.50" cy="332.70" rx="6.1" ry="5.9"/>
<rect class="f" x="437.45" y="329.75" width="6.1" height="5.9"/>
<ellipse cx="458.10" cy="332.70" rx="6.1" ry="5.9"/>
<rect class="f" x="455.05" y="329.75" width="6.1" height="5.9"/>
<ellipse cx="475.70" cy="332.70" rx="6.1" ry="5.9"/>
<rect class="f" x="472.65" y="329.75" width="6.1" height="5.9"/>
<ellipse cx="493.30" cy="332.70" rx="6.1" ry="5.9"/>
<rect class="f" x="490.25" y="329.75" width="6.1" height="5.9"/>
<ellipse cx="510.90" cy="332.70" rx="6.1" ry="5.9"/>
<rect class="f" x="507.85" y="329.75" width="6.1" height="5.9"/>
<ellipse cx="528.50" cy="332.70" rx="6.1" ry="5.9"/>
<rect class="f" x="525.45" y="329.75" width="6.1" height="5.9"/>
<ellipse cx="546.10" cy="332.70" rx="6.1" ry="5.9"/>
<rect class="f" x="543.05" y="329.75" width="6.1" height="5.9"/>
<ellipse cx="352.50" cy="345.40" rx="6.1" ry="5.9"/>
<rect class="f" x="349.45" y="342.45" width="6.1" height="5.9"/>
<ellipse cx="370.10" cy="345.40" rx="6.1" ry="5.9"/>
<rect class="f" x="367.05" y="342.45" width="6.1" height="5.9"/>
<ellipse cx="387.70" cy="345.40" rx="6.1" ry="5.9"/>
<rect class="f" x="384.65" y="342.45" width="6.1" height="5.9"/>
<ellipse cx="405.30" cy="345.40" rx="6.1" ry="5.9"/>
<rect class="f" x="402.25" y="342.45" width="6.1" height="5.9"/>
<ellipse cx="422.90" cy="345.40" rx="6.1" ry="5.9"/>
<rect class="f" x="419.85" y="342.45" width="6.1" height="5.9"/>
<ellipse cx="440.50" cy="345.40" rx="6.1" ry="5.9"/>
<rect class="f" x="437.45" y="342.45" width="6.1" height="5.9"/>
<ellipse cx="458.10" cy="345.40" rx="6.1" ry="5.9"/>
<rect class="f" x="455.05" y="342.45" width="6.1" height="5.9"/>
<ellipse cx="475.70" cy="345.40" rx="6.1" ry="5.9"/>
<rect class="f" x="472.65" y="342.45" width="6.1" height="5.9"/>
<ellipse cx="493.30" cy="345.40" rx="6.1" ry="5.9"/>
<rect class="f" x="490.25" y="342.45" width="6.1" height="5.9"/>
<ellipse cx="510.90" cy="345.40" rx="6.1" ry="5.9"/>
<rect class="f" x="507.85" y="342.45" width="6.1" height="5.9"/>
<ellipse cx="528.50" cy="345.40" rx="6.1" ry="5.9"/>
<rect class="f" x="525.45" y="342.45" width="6.1" height="5.9"/>
<ellipse cx="546.10" cy="345.40" rx="6.1" ry="5.9"/>
<rect class="f" x="543.05" y="342.45" width="6.1" height="5.9"/>
<ellipse cx="352.50" cy="358.20" rx="6.1" ry="5.9"/>
<rect class="f" x="349.45" y="355.25" width="6.1" height="5.9"/>
<ellipse cx="370.10" cy="358.20" rx="6.1" ry="5.9"/>
<rect class="f" x="367.05" y="355.25" width="6.1" height="5.9"/>
<ellipse cx="387.70" cy="358.20" rx="6.1" ry="5.9"/>
<rect class="f" x="384.65" y="355.25" width="6.1" height="5.9"/>
<ellipse cx="405.30" cy="358.20" rx="6.1" ry="5.9"/>
<rect class="f" x="402.25" y="355.25" width="6.1" height="5.9"/>
<ellipse cx="422.90" cy="358.20" rx="6.1" ry="5.9"/>
<rect class="f" x="419.85" y="355.25" width="6.1" height="5.9"/>
<ellipse cx="440.50" cy="358.20" rx="6.1" ry="5.9"/>
<rect class="f" x="437.45" y="355.25" width="6.1" height="5.9"/>
<ellipse cx="458.10" cy="358.20" rx="6.1" ry="5.9"/>
<rect class="f" x="455.05" y="355.25" width="6.1" height="5.9"/>
<ellipse cx="475.70" cy="358.20" rx="6.1" ry="5.9"/>
<rect class="f" x="472.65" y="355.25" width="6.1" height="5.9"/>
<ellipse cx="493.30" cy="358.20" rx="6.1" ry="5.9"/>
<rect class="f" x="490.25" y="355.25" width="6.1" height="5.9"/>
<ellipse cx="510.90" cy="358.20" rx="6.1" ry="5.9"/>
<rect class="f" x="507.85" y="355.25" width="6.1" height="5.9"/>
<ellipse cx="528.50" cy="358.20" rx="6.1" ry="5.9"/>
<rect class="f" x="525.45" y="355.25" width="6.1" height="5.9"/>
<ellipse cx="546.10" cy="358.20" rx="6.1" ry="5.9"/>
<rect class="f" x="543.05" y="355.25" width="6.1" height="5.9"/>
<line x1="320.5" y1="383.70" x2="578.5" y2="383.70"/>
<path d="M321.30,383.70V376.60H333.50V383.70"/>
<path d="M341.30,383.70V376.60H353.50V383.70"/>
<path d="M361.60,383.70V376.60H373.80V383.70"/>
<path d="M382.00,383.70V376.60H394.20V383.70"/>
<path d="M402.30,383.70V376.60H414.50V383.70"/>
<path d="M428.50,383.70V376.60H440.70V383.70"/>
<path d="M458.40,383.70V376.60H470.60V383.70"/>
<path d="M484.40,383.70V376.60H496.60V383.70"/>
<path d="M504.60,383.70V376.60H516.80V383.70"/>
<path d="M524.80,383.70V376.60H537.00V383.70"/>
<path d="M545.20,383.70V376.60H557.40V383.70"/>
<path d="M565.50,383.70V376.60H577.70V383.70"/>
<circle class="f" cx="422.80" cy="380.10" r="3.9"/>
<circle class="wd" cx="421.40" cy="378.70" r="0.45"/>
<circle class="wd" cx="421.40" cy="381.50" r="0.45"/>
<circle class="wd" cx="424.20" cy="378.70" r="0.45"/>
<circle class="wd" cx="424.20" cy="381.50" r="0.45"/>
<circle class="f" cx="476.00" cy="380.10" r="3.9"/>
<circle class="wd" cx="474.60" cy="378.70" r="0.45"/>
<circle class="wd" cx="474.60" cy="381.50" r="0.45"/>
<circle class="wd" cx="477.40" cy="378.70" r="0.45"/>
<circle class="wd" cx="477.40" cy="381.50" r="0.45"/>
<circle cx="449.20" cy="379.90" r="3.1" stroke-width="1.3"/>
<path d="M317.5,387.20 Q317.5,383.70 321.0,383.70"/>
<path d="M581.5,387.20 Q581.5,383.70 578.0,383.70"/>
<path d="M317.5,453.70 Q317.5,457.20 321.0,457.20"/>
<path d="M581.5,453.70 Q581.5,457.20 578.0,457.20"/>
<line x1="327" y1="383.70" x2="327" y2="457.20"/>
<line x1="571.4" y1="383.70" x2="571.4" y2="457.20"/>
<path d="M327.7,444.70 V396.70 Q327.7,394.90 329.5,394.90 H336.6 Q338.4,394.90 338.4,396.70 V444.70 Z"/>
<path d="M560.2,446.70 V396.70 Q560.2,394.90 562,394.90 H569.3 Q571.1,394.90 571.1,396.70 V446.70 Z"/>
<circle class="f" cx="335.30" cy="387.20" r="3.5"/>
<circle class="wd" cx="334.00" cy="385.90" r="0.45"/>
<circle class="wd" cx="334.00" cy="388.50" r="0.45"/>
<circle class="wd" cx="336.60" cy="385.90" r="0.45"/>
<circle class="wd" cx="336.60" cy="388.50" r="0.45"/>
<circle class="f" cx="335.30" cy="453.90" r="3.5"/>
<circle class="wd" cx="334.00" cy="452.60" r="0.45"/>
<circle class="wd" cx="334.00" cy="455.20" r="0.45"/>
<circle class="wd" cx="336.60" cy="452.60" r="0.45"/>
<circle class="wd" cx="336.60" cy="455.20" r="0.45"/>
<circle class="f" cx="394.20" cy="387.20" r="3.5"/>
<circle class="wd" cx="392.90" cy="385.90" r="0.45"/>
<circle class="wd" cx="392.90" cy="388.50" r="0.45"/>
<circle class="wd" cx="395.50" cy="385.90" r="0.45"/>
<circle class="wd" cx="395.50" cy="388.50" r="0.45"/>
<circle class="f" cx="394.20" cy="453.90" r="3.5"/>
<circle class="wd" cx="392.90" cy="452.60" r="0.45"/>
<circle class="wd" cx="392.90" cy="455.20" r="0.45"/>
<circle class="wd" cx="395.50" cy="452.60" r="0.45"/>
<circle class="wd" cx="395.50" cy="455.20" r="0.45"/>
<circle class="f" cx="449.30" cy="387.20" r="3.5"/>
<circle class="wd" cx="448.00" cy="385.90" r="0.45"/>
<circle class="wd" cx="448.00" cy="388.50" r="0.45"/>
<circle class="wd" cx="450.60" cy="385.90" r="0.45"/>
<circle class="wd" cx="450.60" cy="388.50" r="0.45"/>
<circle class="f" cx="449.30" cy="453.90" r="3.5"/>
<circle class="wd" cx="448.00" cy="452.60" r="0.45"/>
<circle class="wd" cx="448.00" cy="455.20" r="0.45"/>
<circle class="wd" cx="450.60" cy="452.60" r="0.45"/>
<circle class="wd" cx="450.60" cy="455.20" r="0.45"/>
<circle class="f" cx="504.30" cy="387.20" r="3.5"/>
<circle class="wd" cx="503.00" cy="385.90" r="0.45"/>
<circle class="wd" cx="503.00" cy="388.50" r="0.45"/>
<circle class="wd" cx="505.60" cy="385.90" r="0.45"/>
<circle class="wd" cx="505.60" cy="388.50" r="0.45"/>
<circle class="f" cx="504.30" cy="453.90" r="3.5"/>
<circle class="wd" cx="503.00" cy="452.60" r="0.45"/>
<circle class="wd" cx="503.00" cy="455.20" r="0.45"/>
<circle class="wd" cx="505.60" cy="452.60" r="0.45"/>
<circle class="wd" cx="505.60" cy="455.20" r="0.45"/>
<circle class="f" cx="563.20" cy="387.20" r="3.5"/>
<circle class="wd" cx="561.90" cy="385.90" r="0.45"/>
<circle class="wd" cx="561.90" cy="388.50" r="0.45"/>
<circle class="wd" cx="564.50" cy="385.90" r="0.45"/>
<circle class="wd" cx="564.50" cy="388.50" r="0.45"/>
<circle class="f" cx="563.20" cy="453.90" r="3.5"/>
<circle class="wd" cx="561.90" cy="452.60" r="0.45"/>
<circle class="wd" cx="561.90" cy="455.20" r="0.45"/>
<circle class="wd" cx="564.50" cy="452.60" r="0.45"/>
<circle class="wd" cx="564.50" cy="455.20" r="0.45"/>
<circle class="f" cx="321.00" cy="400.80" r="3.5"/>
<circle class="wd" cx="319.70" cy="399.50" r="0.45"/>
<circle class="wd" cx="319.70" cy="402.10" r="0.45"/>
<circle class="wd" cx="322.30" cy="399.50" r="0.45"/>
<circle class="wd" cx="322.30" cy="402.10" r="0.45"/>
<circle class="f" cx="577.80" cy="400.80" r="3.5"/>
<circle class="wd" cx="576.50" cy="399.50" r="0.45"/>
<circle class="wd" cx="576.50" cy="402.10" r="0.45"/>
<circle class="wd" cx="579.10" cy="399.50" r="0.45"/>
<circle class="wd" cx="579.10" cy="402.10" r="0.45"/>
<circle class="f" cx="321.00" cy="441.10" r="3.5"/>
<circle class="wd" cx="319.70" cy="439.80" r="0.45"/>
<circle class="wd" cx="319.70" cy="442.40" r="0.45"/>
<circle class="wd" cx="322.30" cy="439.80" r="0.45"/>
<circle class="wd" cx="322.30" cy="442.40" r="0.45"/>
<circle class="f" cx="577.80" cy="441.10" r="3.5"/>
<circle class="wd" cx="576.50" cy="439.80" r="0.45"/>
<circle class="wd" cx="576.50" cy="442.40" r="0.45"/>
<circle class="wd" cx="579.10" cy="439.80" r="0.45"/>
<circle class="wd" cx="579.10" cy="442.40" r="0.45"/>
<ellipse cx="352.50" cy="401.40" rx="6.1" ry="5.9"/>
<rect class="f" x="349.45" y="398.45" width="6.1" height="5.9"/>
<ellipse cx="370.10" cy="401.40" rx="6.1" ry="5.9"/>
<rect class="f" x="367.05" y="398.45" width="6.1" height="5.9"/>
<ellipse cx="387.70" cy="401.40" rx="6.1" ry="5.9"/>
<rect class="f" x="384.65" y="398.45" width="6.1" height="5.9"/>
<ellipse cx="405.30" cy="401.40" rx="6.1" ry="5.9"/>
<rect class="f" x="402.25" y="398.45" width="6.1" height="5.9"/>
<ellipse cx="422.90" cy="401.40" rx="6.1" ry="5.9"/>
<rect class="f" x="419.85" y="398.45" width="6.1" height="5.9"/>
<ellipse cx="440.50" cy="401.40" rx="6.1" ry="5.9"/>
<rect class="f" x="437.45" y="398.45" width="6.1" height="5.9"/>
<ellipse cx="458.10" cy="401.40" rx="6.1" ry="5.9"/>
<rect class="f" x="455.05" y="398.45" width="6.1" height="5.9"/>
<ellipse cx="475.70" cy="401.40" rx="6.1" ry="5.9"/>
<rect class="f" x="472.65" y="398.45" width="6.1" height="5.9"/>
<ellipse cx="493.30" cy="401.40" rx="6.1" ry="5.9"/>
<rect class="f" x="490.25" y="398.45" width="6.1" height="5.9"/>
<ellipse cx="510.90" cy="401.40" rx="6.1" ry="5.9"/>
<rect class="f" x="507.85" y="398.45" width="6.1" height="5.9"/>
<ellipse cx="528.50" cy="401.40" rx="6.1" ry="5.9"/>
<rect class="f" x="525.45" y="398.45" width="6.1" height="5.9"/>
<ellipse cx="546.10" cy="401.40" rx="6.1" ry="5.9"/>
<rect class="f" x="543.05" y="398.45" width="6.1" height="5.9"/>
<ellipse cx="352.50" cy="414.10" rx="6.1" ry="5.9"/>
<rect class="f" x="349.45" y="411.15" width="6.1" height="5.9"/>
<ellipse cx="370.10" cy="414.10" rx="6.1" ry="5.9"/>
<rect class="f" x="367.05" y="411.15" width="6.1" height="5.9"/>
<ellipse cx="387.70" cy="414.10" rx="6.1" ry="5.9"/>
<rect class="f" x="384.65" y="411.15" width="6.1" height="5.9"/>
<ellipse cx="405.30" cy="414.10" rx="6.1" ry="5.9"/>
<rect class="f" x="402.25" y="411.15" width="6.1" height="5.9"/>
<ellipse cx="422.90" cy="414.10" rx="6.1" ry="5.9"/>
<rect class="f" x="419.85" y="411.15" width="6.1" height="5.9"/>
<ellipse cx="440.50" cy="414.10" rx="6.1" ry="5.9"/>
<rect class="f" x="437.45" y="411.15" width="6.1" height="5.9"/>
<ellipse cx="458.10" cy="414.10" rx="6.1" ry="5.9"/>
<rect class="f" x="455.05" y="411.15" width="6.1" height="5.9"/>
<ellipse cx="475.70" cy="414.10" rx="6.1" ry="5.9"/>
<rect class="f" x="472.65" y="411.15" width="6.1" height="5.9"/>
<ellipse cx="493.30" cy="414.10" rx="6.1" ry="5.9"/>
<rect class="f" x="490.25" y="411.15" width="6.1" height="5.9"/>
<ellipse cx="510.90" cy="414.10" rx="6.1" ry="5.9"/>
<rect class="f" x="507.85" y="411.15" width="6.1" height="5.9"/>
<ellipse cx="528.50" cy="414.10" rx="6.1" ry="5.9"/>
<rect class="f" x="525.45" y="411.15" width="6.1" height="5.9"/>
<ellipse cx="546.10" cy="414.10" rx="6.1" ry="5.9"/>
<rect class="f" x="543.05" y="411.15" width="6.1" height="5.9"/>
<ellipse cx="352.50" cy="426.80" rx="6.1" ry="5.9"/>
<rect class="f" x="349.45" y="423.85" width="6.1" height="5.9"/>
<ellipse cx="370.10" cy="426.80" rx="6.1" ry="5.9"/>
<rect class="f" x="367.05" y="423.85" width="6.1" height="5.9"/>
<ellipse cx="387.70" cy="426.80" rx="6.1" ry="5.9"/>
<rect class="f" x="384.65" y="423.85" width="6.1" height="5.9"/>
<ellipse cx="405.30" cy="426.80" rx="6.1" ry="5.9"/>
<rect class="f" x="402.25" y="423.85" width="6.1" height="5.9"/>
<ellipse cx="422.90" cy="426.80" rx="6.1" ry="5.9"/>
<rect class="f" x="419.85" y="423.85" width="6.1" height="5.9"/>
<ellipse cx="440.50" cy="426.80" rx="6.1" ry="5.9"/>
<rect class="f" x="437.45" y="423.85" width="6.1" height="5.9"/>
<ellipse cx="458.10" cy="426.80" rx="6.1" ry="5.9"/>
<rect class="f" x="455.05" y="423.85" width="6.1" height="5.9"/>
<ellipse cx="475.70" cy="426.80" rx="6.1" ry="5.9"/>
<rect class="f" x="472.65" y="423.85" width="6.1" height="5.9"/>
<ellipse cx="493.30" cy="426.80" rx="6.1" ry="5.9"/>
<rect class="f" x="490.25" y="423.85" width="6.1" height="5.9"/>
<ellipse cx="510.90" cy="426.80" rx="6.1" ry="5.9"/>
<rect class="f" x="507.85" y="423.85" width="6.1" height="5.9"/>
<ellipse cx="528.50" cy="426.80" rx="6.1" ry="5.9"/>
<rect class="f" x="525.45" y="423.85" width="6.1" height="5.9"/>
<ellipse cx="546.10" cy="426.80" rx="6.1" ry="5.9"/>
<rect class="f" x="543.05" y="423.85" width="6.1" height="5.9"/>
<ellipse cx="352.50" cy="439.60" rx="6.1" ry="5.9"/>
<rect class="f" x="349.45" y="436.65" width="6.1" height="5.9"/>
<ellipse cx="370.10" cy="439.60" rx="6.1" ry="5.9"/>
<rect class="f" x="367.05" y="436.65" width="6.1" height="5.9"/>
<ellipse cx="387.70" cy="439.60" rx="6.1" ry="5.9"/>
<rect class="f" x="384.65" y="436.65" width="6.1" height="5.9"/>
<ellipse cx="405.30" cy="439.60" rx="6.1" ry="5.9"/>
<rect class="f" x="402.25" y="436.65" width="6.1" height="5.9"/>
<ellipse cx="422.90" cy="439.60" rx="6.1" ry="5.9"/>
<rect class="f" x="419.85" y="436.65" width="6.1" height="5.9"/>
<ellipse cx="440.50" cy="439.60" rx="6.1" ry="5.9"/>
<rect class="f" x="437.45" y="436.65" width="6.1" height="5.9"/>
<ellipse cx="458.10" cy="439.60" rx="6.1" ry="5.9"/>
<rect class="f" x="455.05" y="436.65" width="6.1" height="5.9"/>
<ellipse cx="475.70" cy="439.60" rx="6.1" ry="5.9"/>
<rect class="f" x="472.65" y="436.65" width="6.1" height="5.9"/>
<ellipse cx="493.30" cy="439.60" rx="6.1" ry="5.9"/>
<rect class="f" x="490.25" y="436.65" width="6.1" height="5.9"/>
<ellipse cx="510.90" cy="439.60" rx="6.1" ry="5.9"/>
<rect class="f" x="507.85" y="436.65" width="6.1" height="5.9"/>
<ellipse cx="528.50" cy="439.60" rx="6.1" ry="5.9"/>
<rect class="f" x="525.45" y="436.65" width="6.1" height="5.9"/>
<ellipse cx="546.10" cy="439.60" rx="6.1" ry="5.9"/>
<rect class="f" x="543.05" y="436.65" width="6.1" height="5.9"/>
<line x1="320.5" y1="457.20" x2="578.5" y2="457.20"/>
<path d="M321.30,457.20V464.50H333.50V457.20"/>
<path d="M341.30,457.20V464.50H353.50V457.20"/>
<path d="M361.60,457.20V464.50H373.80V457.20"/>
<path d="M382.00,457.20V464.50H394.20V457.20"/>
<path d="M402.30,457.20V464.50H414.50V457.20"/>
<path d="M428.50,457.20V464.50H440.70V457.20"/>
<path d="M458.40,457.20V464.50H470.60V457.20"/>
<path d="M484.40,457.20V464.50H496.60V457.20"/>
<path d="M504.60,457.20V464.50H516.80V457.20"/>
<path d="M524.80,457.20V464.50H537.00V457.20"/>
<path d="M545.20,457.20V464.50H557.40V457.20"/>
<path d="M565.50,457.20V464.50H577.70V457.20"/>
<circle class="f" cx="422.90" cy="461.30" r="3.9"/>
<circle class="wd" cx="421.50" cy="459.90" r="0.45"/>
<circle class="wd" cx="421.50" cy="462.70" r="0.45"/>
<circle class="wd" cx="424.30" cy="459.90" r="0.45"/>
<circle class="wd" cx="424.30" cy="462.70" r="0.45"/>
<circle class="f" cx="476.00" cy="461.30" r="3.9"/>
<circle class="wd" cx="474.60" cy="459.90" r="0.45"/>
<circle class="wd" cx="474.60" cy="462.70" r="0.45"/>
<circle class="wd" cx="477.40" cy="459.90" r="0.45"/>
<circle class="wd" cx="477.40" cy="462.70" r="0.45"/>
<circle cx="449.20" cy="461.50" r="3.1" stroke-width="1.3"/>
<path d="M317.5,517.1 A105,105 0 0 0 404.6,563.6 L494.4,563.6 A105,105 0 0 0 581.5,517.1"/>
<path d="M372.6,559 V490.6 A10,10 0 0 1 382.6,480.6 H516.2 A10,10 0 0 1 526.2,490.6 V559"/>
<path d="M377.6,561 V495.5 A9,9 0 0 1 386.6,486.5 H512.3 A9,9 0 0 1 521.3,495.5 V561"/>
<rect x="336.8" y="483.3" width="5.399999999999977" height="38.49999999999994" rx="2.6999999999999886" ry="2.6999999999999886"/>
<rect x="356.4" y="482.0" width="6.400000000000034" height="51.5" rx="3.200000000000017" ry="3.200000000000017"/>
<rect x="536.2" y="482.0" width="6.199999999999932" height="51.5" rx="3.099999999999966" ry="3.099999999999966"/>
<rect x="556.8" y="483.3" width="5.2000000000000455" height="38.49999999999994" rx="2.6000000000000227" ry="2.6000000000000227"/>
<circle cx="416.3" cy="559.8" r="2.4"/>
<circle cx="482.0" cy="559.8" r="2.4"/>
<rect x="317.3" y="699.7" width="266.2" height="4.7" rx="0.8"/>
<circle cx="450.8" cy="742" r="34.5" stroke-width="1.3"/>
<circle cx="450.8" cy="742" r="32.0" stroke-width="1.1"/>
<circle class="f" cx="450.7" cy="742.1" r="1.5"/>
<path d="M409.9,719 V768.1 H427.5"/>
<path d="M412,719 V766.3 H425.5"/>
<path d="M492.3,719 V768.1 H474"/>
<path d="M490.1,719 V766.3 H476.2"/>
<rect x="409.6" y="705.4" width="4.0" height="13.6" rx="1.8"/>
<rect x="488.0" y="705.4" width="4.0" height="13.6" rx="1.8"/>
<path d="M321.4,704.4 V709.6 H332.6 V704.4"/>
<path d="M323.3,704.4 V708.1 H330.4 V704.4"/>
<path d="M327,709.6 V729.9 H330.8 V709.6"/>
<path d="M335.3,704.4 V711.1 H345.4 V704.4"/>
<path d="M338.6,704.4 V708.1 H343.1 V704.4"/>
<path d="M336.8,711.1 V729.9 H342 V711.1"/>
<path d="M345.8,709.8 H398.4 L403,710.6 V707.4"/>
<path d="M349.5,709.8 V729.9 H353.6 V709.8"/>
<path d="M359.3,709.8 V729.9 H364.5 V709.8"/>
<path d="M372.3,709.8 V729.9 H375.7 V709.8"/>
<path d="M394,709.8 V729.9 H398.4 V709.8"/>
<path d="M382.4,709.8 V729.5"/>
<path d="M387.4,709.8 V729.5"/>
<path d="M405.3,707.4 V729.1 H409.4"/>
<path d="M580.4,704.4 V709.6 H569.2 V704.4"/>
<path d="M578.5,704.4 V708.1 H571.4 V704.4"/>
<path d="M574.8,709.6 V729.9 H571.0 V709.6"/>
<path d="M566.5,704.4 V711.1 H556.4 V704.4"/>
<path d="M563.2,704.4 V708.1 H558.7 V704.4"/>
<path d="M565.0,711.1 V729.9 H559.8 V711.1"/>
<path d="M556.0,709.8 H503.4 L498.8,710.6 V707.4"/>
<path d="M552.3,709.8 V729.9 H548.2 V709.8"/>
<path d="M542.5,709.8 V729.9 H537.3 V709.8"/>
<path d="M529.5,709.8 V729.9 H526.1 V709.8"/>
<path d="M507.8,709.8 V729.9 H503.4 V709.8"/>
<path d="M519.4,709.8 V729.5"/>
<path d="M514.4,709.8 V729.5"/>
<path d="M496.5,707.4 V729.1 H492.4"/>
<rect x="445.7" y="776.4" width="9.9" height="6.2"/>
<rect x="444.4" y="782.6" width="13.1" height="5.5" rx="2.2"/>
<rect x="447.2" y="788.1" width="7.6" height="10"/>
<path d="M488,653.6 H458.7 L455.8,684"/>
<polygon class="f" points="451.7,682.3 460.8,682.3 453.9,707.2"/>

<text x="427.5" y="28.2" text-anchor="middle" font-size="40.5">2</text>
<text x="449.9" y="28.2" text-anchor="middle" font-size="40.5">5</text>
<text x="472.5" y="28.2" text-anchor="middle" font-size="40.5">8</text>
<text x="223.4" y="332.6" text-anchor="middle" font-size="42">5</text>
<text x="267" y="332.6" text-anchor="middle" font-size="42">2</text>
<polygon class="f" points="249.2,304 249.2,332.5 245.9,332.5 245.9,309.6 239.1,314.2 238.2,310.7 246.3,304"/>
<text x="538.4" y="667.6" text-anchor="middle" font-size="42" class="thin">62</text>
<ellipse cx="500" cy="653.5" rx="11.1" ry="13.2" style="stroke-width:2.2"/>
<line x1="489.8" y1="667.8" x2="510.8" y2="640" style="stroke-width:2.2"/>

</svg>
</body></html>
